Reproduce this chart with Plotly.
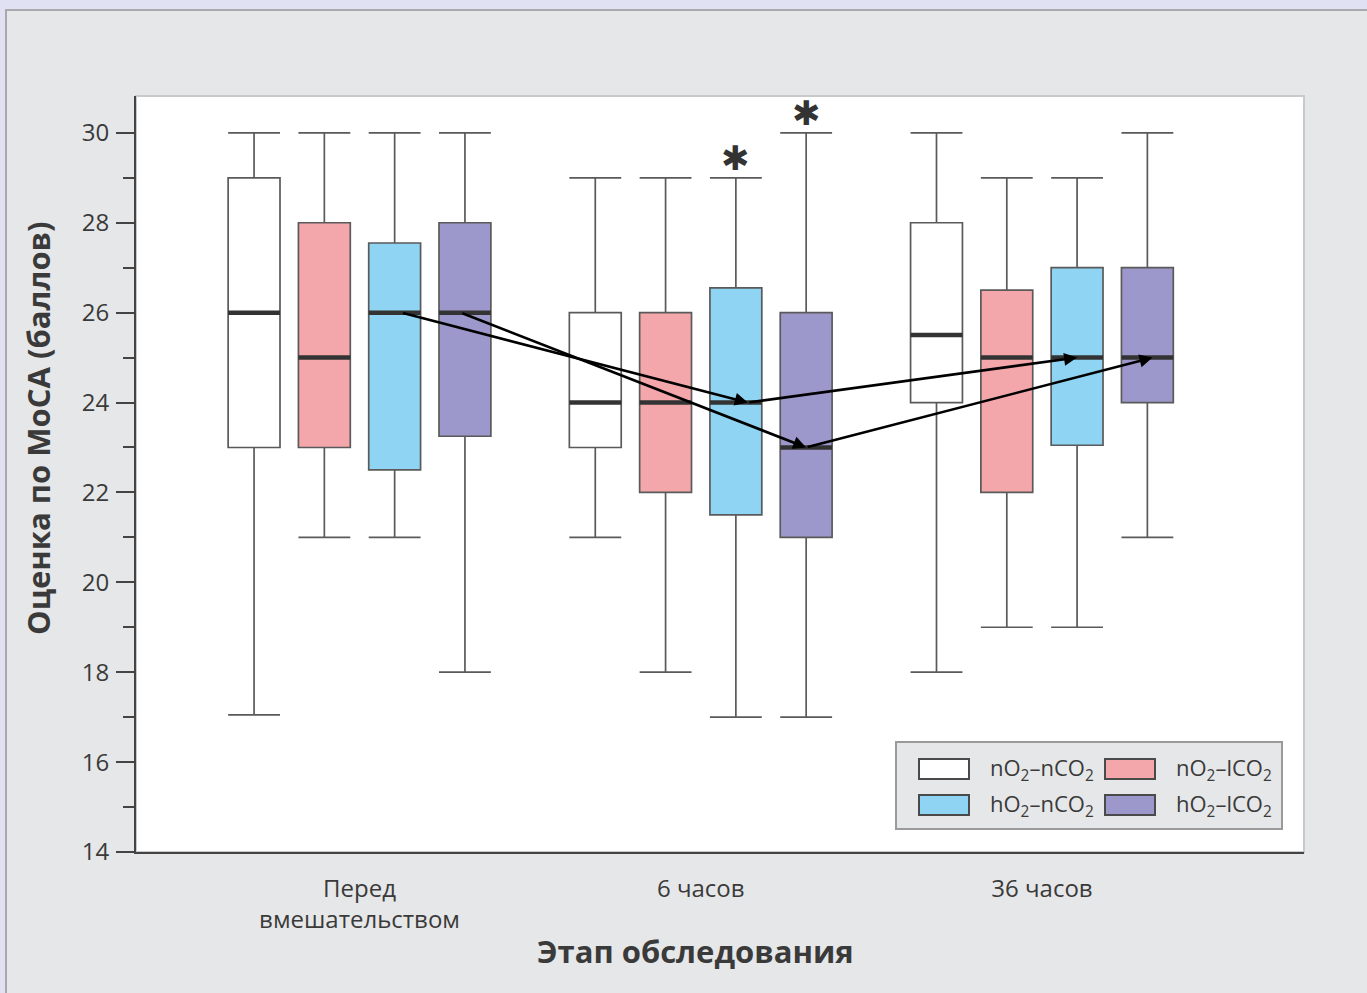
import plotly.graph_objects as go

# MoCA scores by examination stage and gas-mixture group
stages = ["Перед<br>вмешательством", "6 часов", "36 часов"]
groups = ["nO<sub>2</sub>–nCO<sub>2</sub>", "nO<sub>2</sub>–lCO<sub>2</sub>",
          "hO<sub>2</sub>–nCO<sub>2</sub>", "hO<sub>2</sub>–lCO<sub>2</sub>"]

lower_nn = [17.05, 21, 18]
q1_nn = [23, 23, 24]
median_nn = [26, 24, 25.5]
q3_nn = [29, 26, 28]
upper_nn = [30, 29, 30]

lower_nl = [21, 18, 19]
q1_nl = [23, 22, 22]
median_nl = [25, 24, 25]
q3_nl = [28, 26, 26.5]
upper_nl = [30, 29, 29]

lower_hn = [21, 17, 19]
q1_hn = [22.5, 21.5, 23.05]
median_hn = [26, 24, 25]
q3_hn = [27.55, 26.55, 27]
upper_hn = [30, 29, 29]

lower_hl = [18, 17, 21]
q1_hl = [23.25, 21, 24]
median_hl = [26, 23, 25]
q3_hl = [28, 26, 27]
upper_hl = [30, 30, 30]

# significance marks: (group index, stage index)
significant = [(2, 1), (3, 1)]

series = [
    (lower_nn, q1_nn, median_nn, q3_nn, upper_nn),
    (lower_nl, q1_nl, median_nl, q3_nl, upper_nl),
    (lower_hn, q1_hn, median_hn, q3_hn, upper_hn),
    (lower_hl, q1_hl, median_hl, q3_hl, upper_hl),
]
fills = ["#ffffff", "#f4a7ab", "#8fd5f3", "#9c98cb"]
edge = "#5a5a5a"

offsets = [-0.309, -0.103, 0.103, 0.309]
box_w = 0.152
text_col = "#3a3a3a"

# page geometry (pixels) used to place decorations in paper coordinates
W, H = 1367, 993
L, R, T, B = 136, 1304, 96, 852


def px(xp):
    return (xp - L) / (R - L)


def py(yp):
    return (B - yp) / (B - T)


fig = go.Figure()

for gi, (lo, q1, md, q3, up) in enumerate(series):
    xs = [s + offsets[gi] for s in range(len(stages))]
    fig.add_trace(go.Box(
        x=xs, lowerfence=lo, q1=q1, median=md, q3=q3, upperfence=up,
        width=box_w, whiskerwidth=1, fillcolor=fills[gi],
        line=dict(color=edge, width=1.7), boxpoints=False,
        name=groups[gi], showlegend=False, hoverinfo="skip",
    ))
    # thick median bars
    mx, my = [], []
    for x, m in zip(xs, md):
        mx += [x - box_w / 2, x + box_w / 2, None]
        my += [m, m, None]
    fig.add_trace(go.Scatter(x=mx, y=my, mode="lines",
                             line=dict(color="#333333", width=4.5),
                             showlegend=False, hoverinfo="skip"))

annotations = []

# arrows linking medians of the hO2 groups across stages
arrow_specs = [
    (2, 0, 0.02, 1, 0.035),
    (2, 1, 0.035, 2, 0.0),
    (3, 0, -0.012, 1, 0.0),
    (3, 1, 0.0, 2, 0.015),
]
for gi, s0, d0, s1, d1 in arrow_specs:
    md = series[gi][2]
    annotations.append(dict(
        x=s1 + offsets[gi] + d1, y=md[s1], xref="x", yref="y",
        ax=s0 + offsets[gi] + d0, ay=md[s0], axref="x", ayref="y",
        text="", showarrow=True, arrowhead=2, arrowsize=1.0,
        arrowwidth=2.6, arrowcolor="#000000", standoff=0, startstandoff=0,
    ))

for gi, si in significant:
    annotations.append(dict(
        x=si + offsets[gi], y=series[gi][4][si] + 0.45, xref="x", yref="y",
        text="✱", showarrow=False, yanchor="middle", xanchor="center",
        font=dict(family="DejaVu Sans", size=34, color="#333333"),
    ))

# axis titles
annotations.append(dict(
    x=px(38), y=py(428), xref="paper", yref="paper",
    text="<b>Оценка по МоСА (баллов)</b>", textangle=-90, showarrow=False,
    xanchor="center", yanchor="middle",
    font=dict(family="Open Sans", size=31, color=text_col),
))
annotations.append(dict(
    x=px(695), y=py(951), xref="paper", yref="paper",
    text="<b>Этап обследования</b>", showarrow=False,
    xanchor="center", yanchor="middle",
    font=dict(family="Open Sans", size=31, color=text_col),
))

shapes = [
    # outer panel
    dict(type="rect", xref="paper", yref="paper", layer="below",
         x0=px(6), x1=px(W + 10), y0=py(10), y1=py(H + 10),
         fillcolor="#e6e7e8", line=dict(color="#a9a9ad", width=2)),
    # plotting area
    dict(type="rect", xref="paper", yref="paper", layer="below",
         x0=0, x1=1, y0=0, y1=1,
         fillcolor="#ffffff", line=dict(color="#c9c9c9", width=2)),
]

# legend block
shapes.append(dict(type="rect", xref="paper", yref="paper",
                   x0=px(896), x1=px(1282), y0=py(742), y1=py(829),
                   fillcolor="#e6e7e8", line=dict(color="#9a9a9a", width=2)))
leg_pos = [(919, 769), (1105, 769), (919, 805), (1105, 805)]
for gi, (lx, ly) in enumerate(leg_pos):
    shapes.append(dict(type="rect", xref="paper", yref="paper",
                       x0=px(lx), x1=px(lx + 50), y0=py(ly + 10), y1=py(ly - 10),
                       fillcolor=fills[gi], line=dict(color="#4a4a4a", width=2)))
    annotations.append(dict(
        x=px(lx + 69), y=py(ly), xref="paper", yref="paper",
        text=groups[gi], showarrow=False, xanchor="left", yanchor="middle",
        font=dict(family="Open Sans", size=22, color=text_col),
    ))

fig.update_layout(
    width=W, height=H,
    margin=dict(l=L, r=W - R, t=T, b=H - B),
    paper_bgcolor="#e0e2f3",
    plot_bgcolor="rgba(0,0,0,0)",
    boxmode="overlay",
    showlegend=False,
    shapes=shapes,
    annotations=annotations,
    font=dict(family="Open Sans", color=text_col),
    xaxis=dict(
        range=[-0.655, 2.768], tickvals=[0, 1, 2], ticktext=stages,
        ticks="", showgrid=False, zeroline=False,
        showline=True, linecolor="#444444", linewidth=2,
        tickfont=dict(size=24, color=text_col), ticklabelstandoff=14,
    ),
    yaxis=dict(
        range=[14, 30.82], tickvals=list(range(14, 31, 2)),
        ticks="outside", ticklen=18, tickwidth=2, tickcolor="#444444",
        minor=dict(dtick=1, tick0=14, ticks="outside", ticklen=11,
                   tickwidth=2, tickcolor="#444444", showgrid=False),
        showgrid=False, zeroline=False,
        showline=True, linecolor="#444444", linewidth=2,
        tickfont=dict(size=24, color=text_col), ticklabelstandoff=2,
    ),
)

fig.write_html("out.html")
